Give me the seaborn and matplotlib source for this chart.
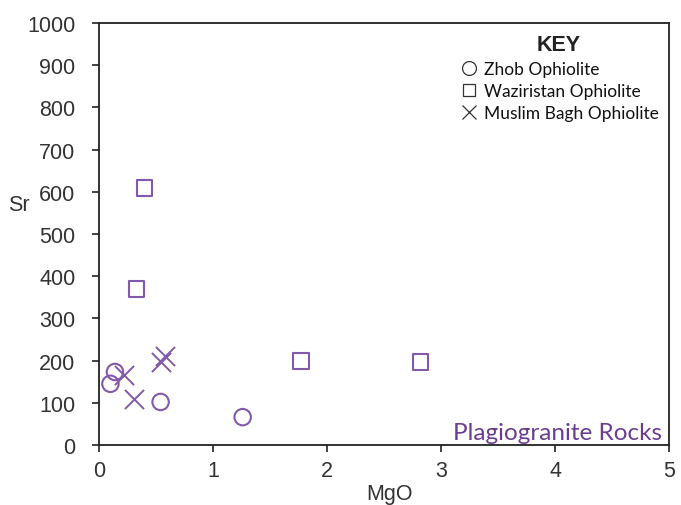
import matplotlib
matplotlib.use("Agg")
import matplotlib.pyplot as plt
from matplotlib.lines import Line2D
import seaborn as sns
import pandas as pd

# MgO (wt%) and Sr (ppm) for plagiogranites from three ophiolites
zhob_mgo = [0.10, 0.14, 0.54, 1.26]
zhob_sr = [145, 173, 102, 66]
waz_mgo = [0.40, 0.33, 1.77, 2.82]
waz_sr = [609, 370, 199, 197]
mb_mgo = [0.22, 0.31, 0.54, 0.58]
mb_sr = [166, 109, 197, 211]

groups = ["Zhob Ophiolite", "Waziristan Ophiolite", "Muslim Bagh Ophiolite"]
x_ticks = [0, 1, 2, 3, 4, 5]
y_ticks = list(range(0, 1001, 100))

df = pd.concat([
    pd.DataFrame({"MgO": zhob_mgo, "Sr": zhob_sr, "group": groups[0]}),
    pd.DataFrame({"MgO": waz_mgo, "Sr": waz_sr, "group": groups[1]}),
    pd.DataFrame({"MgO": mb_mgo, "Sr": mb_sr, "group": groups[2]}),
])

sns.set_theme(style="white")
plt.rcParams["font.family"] = ["Liberation Sans", "DejaVu Sans"]

purple = "#8259ab"
marker_of = {groups[0]: "o", groups[1]: "s", groups[2]: "x"}
size_of = {groups[0]: 140, groups[1]: 125, groups[2]: 190}

fig = plt.figure(figsize=(6.81, 5.06), dpi=100)
ax = fig.add_axes([0.1454, 0.1186, 0.8370, 0.8340])

for g in groups:
    sub = df[df["group"] == g]
    if marker_of[g] == "x":
        sns.scatterplot(data=sub, x="MgO", y="Sr", marker="x", color=purple,
                        s=size_of[g], linewidth=1.4, ax=ax, legend=False)
    else:
        sns.scatterplot(data=sub, x="MgO", y="Sr", marker=marker_of[g],
                        facecolor="none", edgecolor=purple, s=size_of[g],
                        linewidth=1.5, ax=ax, legend=False)

ax.set_xlim(0, 5)
ax.set_ylim(0, 1000)
ax.set_xticks(x_ticks)
ax.set_yticks(y_ticks)
ax.tick_params(axis="both", direction="out", length=5, width=1.2,
               colors="#222222", labelsize=15.5, bottom=True, left=True)
ax.tick_params(axis="both", labelcolor="#333333")
ax.tick_params(axis="y", pad=12)
ax.tick_params(axis="x", pad=6)
for sp in ax.spines.values():
    sp.set_color("#222222")
    sp.set_linewidth(1.3)

ax.set_xlabel("MgO", fontsize=15.5, color="#333333", labelpad=0)
ax.xaxis.set_label_coords(0.51, -0.09)
ax.set_ylabel("Sr", fontsize=15.5, color="#333333", rotation=0)
ax.yaxis.set_label_coords(-0.14, 0.545)

ax.text(0.988, 0.005, "Plagiogranite Rocks", transform=ax.transAxes,
        ha="right", va="bottom", fontsize=17.5, color="#6a3d92",
        family=["Lato", "DejaVu Sans"])

handles = [
    Line2D([], [], marker="o", linestyle="none", markerfacecolor="none",
           markeredgecolor="#333333", markersize=10, markeredgewidth=0.9),
    Line2D([], [], marker="s", linestyle="none", markerfacecolor="none",
           markeredgecolor="#333333", markersize=9, markeredgewidth=0.9),
    Line2D([], [], marker="x", linestyle="none", color="#333333",
           markersize=10, markeredgewidth=0.9),
]
leg = ax.legend(handles, groups, title="KEY", loc="upper right",
                bbox_to_anchor=(1.0, 0.998), frameon=False,
                prop={"family": ["Lato", "DejaVu Sans"], "size": 12.5},
                handletextpad=0.25, labelspacing=0.35, handlelength=1.2,
                borderaxespad=0.2, labelcolor="#111111")
leg.get_title().set_fontweight("bold")
leg.get_title().set_fontsize(15.5)
leg.get_title().set_color("#222222")
leg.get_title().set_family(["Liberation Sans", "DejaVu Sans"])

fig.savefig("out.png", dpi=100)
